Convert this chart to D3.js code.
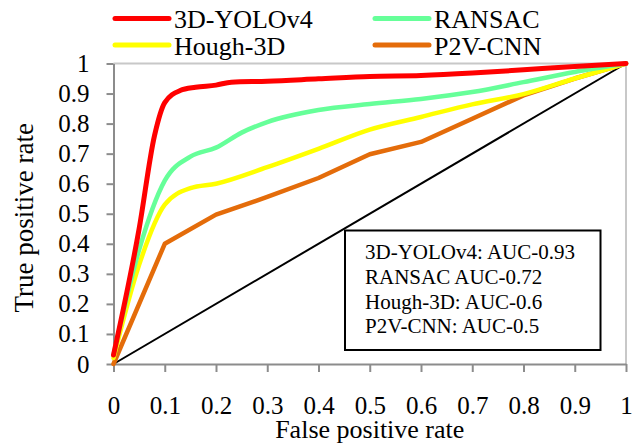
<!DOCTYPE html>
<html>
<head>
<meta charset="utf-8">
<script src="https://cdn.jsdelivr.net/npm/d3@7"></script>
<style>
  html, body { margin: 0; padding: 0; background: #fff; }
  svg text { font-family: "Liberation Serif", "Times New Roman", Times, "DejaVu Serif", serif; }
</style>
</head>
<body>
<div id="chart"></div>
<script>
// ROC curves, values
const seriesNames = ['3D-YOLOv4', 'RANSAC', 'Hough-3D', 'P2V-CNN'];
const seriesColors = ['#FF0000', '#66FF99', '#FFFF00', '#E46C0A'];
const yoloFpr = [0, 0.05, 0.08, 0.1, 0.13, 0.16, 0.2, 0.23, 0.3, 0.4, 0.5, 0.6, 0.7, 0.8, 0.9, 1];
const yoloTpr = [0.03, 0.45, 0.76, 0.87, 0.91, 0.921, 0.928, 0.938, 0.941, 0.949, 0.957, 0.96, 0.968, 0.979, 0.99, 1];
const ransacFpr = [0, 0.05, 0.1, 0.15, 0.2, 0.25, 0.3, 0.4, 0.5, 0.6, 0.7, 0.8, 0.9, 1];
const ransacTpr = [0.03, 0.38, 0.61, 0.69, 0.72, 0.77, 0.805, 0.845, 0.865, 0.882, 0.905, 0.938, 0.972, 1];
const houghFpr = [0, 0.05, 0.1, 0.15, 0.2, 0.3, 0.4, 0.5, 0.6, 0.7, 0.8, 0.9, 1];
const houghTpr = [0.02, 0.33, 0.53, 0.585, 0.6, 0.655, 0.716, 0.78, 0.822, 0.864, 0.898, 0.95, 1];
const p2vFpr = [0, 0.1, 0.2, 0.3, 0.4, 0.5, 0.6, 0.7, 0.8, 0.9, 1];
const p2vTpr = [0, 0.4, 0.497, 0.556, 0.619, 0.698, 0.739, 0.816, 0.894, 0.95, 1];
const chanceLine = [0, 1];
const ticks = [0, 0.1, 0.2, 0.3, 0.4, 0.5, 0.6, 0.7, 0.8, 0.9, 1];
const aucLabels = ['3D-YOLOv4: AUC-0.93', 'RANSAC AUC-0.72', 'Hough-3D: AUC-0.6', 'P2V-CNN: AUC-0.5'];

const W = 637, H = 443;
const m = { left: 113.5, right: 626, top: 63.5, bottom: 364 };
const serif = '"Liberation Serif", "Times New Roman", Times, "DejaVu Serif", serif';

const svg = d3.select('#chart').append('svg').attr('width', W).attr('height', H)
  .attr('font-family', serif);

const x = d3.scaleLinear().domain([0, 1]).range([m.left, m.right]);
const y = d3.scaleLinear().domain([0, 1]).range([m.bottom, m.top]);

// plot frame (top / right)
svg.append('path')
  .attr('d', `M${x(0)},${y(1)}H${x(1)}V${y(0)}`)
  .attr('fill', 'none').attr('stroke', '#C8C8C8').attr('stroke-width', 2);

// axes
const fmt = d => d === 0 || d === 1 ? String(d) : d3.format('.1f')(d);
const xAxis = svg.append('g').attr('transform', `translate(0,${y(0)})`)
  .call(d3.axisBottom(x).tickValues(ticks).tickFormat(fmt).tickSize(8).tickSizeOuter(0).tickPadding(24));
const yAxis = svg.append('g').attr('transform', `translate(${x(0)},0)`)
  .call(d3.axisLeft(y).tickValues(ticks).tickFormat(fmt).tickSize(7).tickSizeOuter(0).tickPadding(17));

[xAxis, yAxis].forEach(a => {
  a.attr('font-family', serif).attr('font-size', 25);
  a.select('.domain').attr('stroke', '#8C8C8C').attr('stroke-width', 2);
  a.selectAll('.tick line').attr('stroke', '#8C8C8C').attr('stroke-width', 2);
  a.selectAll('.tick text').attr('fill', '#000');
});

// chance diagonal
const line = d3.line().x(d => x(d[0])).y(d => y(d[1]));
svg.append('path')
  .attr('d', line(d3.zip(chanceLine, chanceLine)))
  .attr('fill', 'none').attr('stroke', '#000').attr('stroke-width', 2);

// ROC curves
const curves = [
  d3.zip(yoloFpr, yoloTpr),
  d3.zip(ransacFpr, ransacTpr),
  d3.zip(houghFpr, houghTpr),
  d3.zip(p2vFpr, p2vTpr)
];
const smooth = d3.line().x(d => x(d[0])).y(d => y(d[1])).curve(d3.curveMonotoneX);
[3, 2, 1, 0].forEach(i => {
  svg.append('path')
    .attr('d', i === 3 ? line(curves[i]) : smooth(curves[i]))
    .attr('fill', 'none')
    .attr('stroke', seriesColors[i])
    .attr('stroke-width', i === 0 ? 5 : 4.5)
    .attr('stroke-linejoin', 'round')
    .attr('stroke-linecap', 'round');
});

// legend (two columns)
const legend = svg.append('g').attr('font-size', 26);
seriesNames.forEach((name, i) => {
  const lx = i % 2 === 0 ? 115 : 375;
  const ly = i < 2 ? 18.5 : 45;
  legend.append('line')
    .attr('x1', lx).attr('x2', lx + 54).attr('y1', ly).attr('y2', ly)
    .attr('stroke', seriesColors[i]).attr('stroke-width', 5).attr('stroke-linecap', 'round');
  legend.append('text').attr('x', lx + 59).attr('y', ly + 9.5).text(name);
});

// AUC box
svg.append('rect')
  .attr('x', 345).attr('y', 230.5).attr('width', 255.5).attr('height', 119.5)
  .attr('fill', '#fff').attr('stroke', '#000').attr('stroke-width', 2);
svg.append('g').attr('font-size', 21)
  .selectAll('text').data(aucLabels).join('text')
  .attr('x', 365).attr('y', (d, i) => 259 + i * 24.8)
  .text(d => d);

// axis titles
svg.append('text')
  .attr('x', (m.left + m.right) / 2).attr('y', 438)
  .attr('text-anchor', 'middle').attr('font-size', 26)
  .text('False positive rate');
svg.append('text')
  .attr('transform', `translate(33,${(m.top + m.bottom) / 2 + 4}) rotate(-90)`)
  .attr('text-anchor', 'middle').attr('font-size', 27)
  .text('True positive rate');
</script>
</body>
</html>
